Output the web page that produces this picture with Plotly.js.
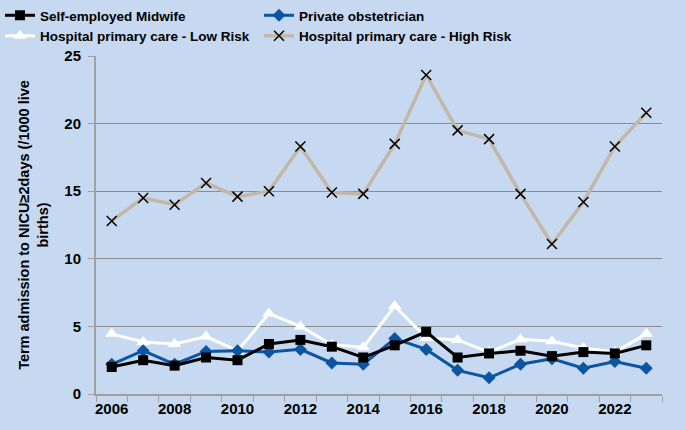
<!DOCTYPE html>
<html>
<head>
<meta charset="utf-8">
<script src="https://cdn.plot.ly/plotly-3.0.1.min.js"></script>
<style>html,body{margin:0;padding:0;background:#c6d9f0;}#chart{width:686px;height:430px;}</style>
</head>
<body>
<div id="chart"></div>
<script>
var years = [2006,2007,2008,2009,2010,2011,2012,2013,2014,2015,2016,2017,2018,2019,2020,2021,2022,2023];
var midwife = [2.0,2.5,2.1,2.7,2.5,3.7,4.0,3.5,2.7,3.6,4.6,2.7,3.0,3.2,2.8,3.1,3.0,3.6];
var privateObs = [2.2,3.2,2.2,3.15,3.2,3.1,3.3,2.3,2.2,4.1,3.3,1.75,1.2,2.2,2.6,1.9,2.4,1.9];
var lowRisk = [4.45,3.85,3.7,4.25,3.2,5.95,5.0,3.65,3.45,6.5,4.15,4.0,3.1,4.05,3.9,3.4,3.1,4.45];
var highRisk = [12.8,14.5,14.0,15.6,14.6,15.0,18.3,14.9,14.8,18.5,23.6,19.5,18.85,14.8,11.1,14.2,18.3,20.8];
var names = ["Self-employed Midwife","Private obstetrician","Hospital primary care - Low Risk","Hospital primary care - High Risk"];
var yTitle = "Term admission to NICU\u22652days (/1000 live<br>births)";
var xTickLabels = [2006,2008,2010,2012,2014,2016,2018,2020,2022];

var traces = [
  {x: years, y: highRisk, name: names[3], type: 'scatter', mode: 'lines+markers', legendrank: 4,
   line: {color: '#c3b8a8', width: 3.5}, marker: {symbol: 'x-thin-open', size: 10, color: '#000000', line: {color: '#000000', width: 1.5}}},
  {x: years, y: lowRisk, name: names[2], type: 'scatter', mode: 'lines+markers', legendrank: 3,
   line: {color: '#ffffff', width: 3}, marker: {symbol: 'triangle-up', size: 12, color: '#ffffff'}},
  {x: years, y: privateObs, name: names[1], type: 'scatter', mode: 'lines+markers', legendrank: 2,
   line: {color: '#0b55a2', width: 3}, marker: {symbol: 'diamond', size: 10, color: '#0b55a2'}},
  {x: years, y: midwife, name: names[0], type: 'scatter', mode: 'lines+markers', legendrank: 1,
   line: {color: '#000000', width: 3}, marker: {symbol: 'square', size: 10, color: '#000000'}}
];

var fam = '"Liberation Sans", Arial, sans-serif';

var layout = {
  width: 686, height: 430,
  paper_bgcolor: '#c6d9f0', plot_bgcolor: '#c6d9f0',
  margin: {l: 96, r: 24, t: 56, b: 36, autoexpand: false},
  font: {family: fam, size: 14, color: '#000', weight: 'bold'},
  showlegend: true,
  legend: {orientation: 'h', xref: 'container', yref: 'container', x: -0.008, y: 1.0, xanchor: 'left', yanchor: 'top',
           entrywidth: 214, entrywidthmode: 'pixels', traceorder: 'normal', bgcolor: 'rgba(0,0,0,0)',
           font: {family: fam, size: 13.5, color: '#000', weight: 'bold'}, tracegroupgap: 0},
  xaxis: {range: [2005.5, 2023.5], tickvals: xTickLabels, ticktext: xTickLabels.map(String), ticks: '',
          showgrid: false, zeroline: false, showline: true, linecolor: '#a0a0a0', linewidth: 2,
          tickfont: {family: fam, size: 15, color: '#000', weight: 'bold'},
          minor: {tick0: 2005.5, dtick: 1, ticks: 'outside', ticklen: 6, tickcolor: '#a0a0a0', tickwidth: 1, showgrid: false}},
  yaxis: {range: [0, 25], dtick: 5, ticks: 'outside', ticklen: 6, tickcolor: '#a0a0a0', tickwidth: 1, ticklabelstandoff: 4,
          showgrid: true, gridcolor: '#8c8c8c', gridwidth: 1, zeroline: false, showline: true, linecolor: '#a0a0a0', linewidth: 2,
          tickfont: {family: fam, size: 15, color: '#000', weight: 'bold'},
          title: {text: yTitle, standoff: 12, font: {family: fam, size: 14.5, color: '#000', weight: 'bold'}}}
};

Plotly.newPlot('chart', traces, layout, {displayModeBar: false, staticPlot: true});
</script>
</body>
</html>
